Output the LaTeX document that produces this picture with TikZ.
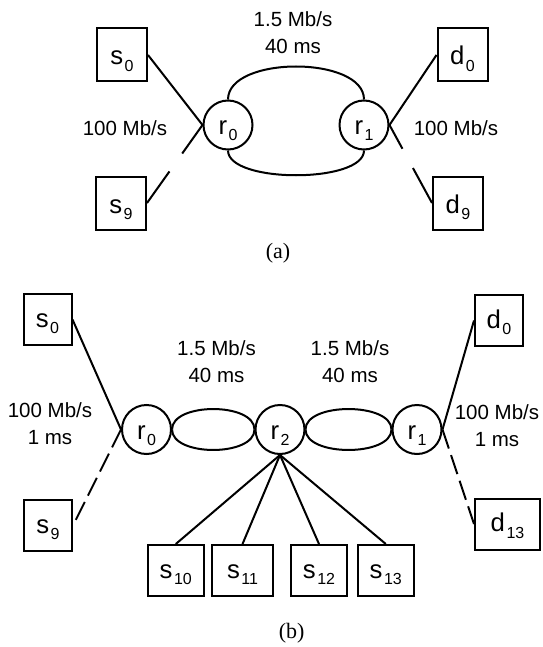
\documentclass[tikz,border=0pt]{standalone}
\usepackage{fontspec}
\setmainfont{Liberation Sans}
\newfontfamily\capfont{Liberation Serif}
\usetikzlibrary{shapes}
\newcommand{\idx}[1]{\kern1.5pt\raisebox{-6.5pt}{\fontsize{16}{16}\selectfont #1}}
\tikzstyle{host} = [rectangle,draw,line width=2pt,minimum width=48pt,minimum height=51pt,inner sep=1pt,text height=21pt,text depth=6pt,text centered,font=\fontsize{25.7}{30}\selectfont]
\tikzstyle{hosta} = [host,minimum width=50pt,minimum height=53pt,text depth=1pt]
\tikzstyle{router} = [circle,draw,line width=2pt,minimum size=49pt,inner sep=0pt,text height=22pt,text depth=3pt,font=\fontsize{25.7}{30}\selectfont]
\tikzstyle{rate} = [align=center,font=\fontsize{20.5}{27}\selectfont]
\tikzstyle{caption} = [font=\capfont\fontsize{22}{26}\selectfont]
\tikzstyle{wire} = [line width=2pt]
\tikzstyle{gapwire} = [wire,dash pattern=on 20pt off 7pt]

\begin{document}
\begin{tikzpicture}[x=1pt,y=1pt,node distance=100pt]
    \useasboundingbox (0,0) rectangle (542,-647);

    % (a) dumbbell
    \node[router](arouter0) at (228,-125) {r\idx{0}};
    \node[router,xshift=36pt,right of=arouter0](arouter1) {r\idx{1}};
    \node[hosta,xshift=-6pt,yshift=70pt,left of=arouter0](asrc0) {s\idx{0}};
    \node[hosta,xshift=-7pt,yshift=-78pt,left of=arouter0](asrc9) {s\idx{9}};
    \node[hosta,xshift=-1.5pt,yshift=70pt,right of=arouter1](adst0) {d\idx{0}};
    \node[hosta,xshift=-6pt,yshift=-78pt,right of=arouter1](adst9) {d\idx{9}};
    \node[rate,xshift=65pt,yshift=-8pt,above of=arouter0](abottle) {1.5 Mb/s\\40 ms};
    \node[rate,xshift=-3pt,yshift=-3pt,left of=arouter0](aleft) {100 Mb/s};
    \node[rate,xshift=-8pt,yshift=-3pt,right of=arouter1](aright) {100 Mb/s};
    \node[caption,xshift=50pt,yshift=-28pt,below of=arouter0](acap) {(a)};

    \draw[wire] (asrc0.east) -- (arouter0.west);
    \draw[wire,dash pattern=on 35pt off 22pt on 100pt off 10pt] (arouter0.west) -- (asrc9.east);
    \draw[wire] (adst0.west) -- (arouter1.east);
    \draw[wire,dash pattern=on 27pt off 22pt on 100pt off 10pt] (arouter1.east) -- (adst9.west);
    \draw[wire] (arouter0.north) .. controls +(0,44) and +(0,44) .. (arouter1.north);
    \draw[wire] (arouter0.south) .. controls +(0,-33) and +(0,-33) .. (arouter1.south);

    % (b) parking lot
    \node[router](brouter2) at (280,-429.5) {r\idx{2}};
    \node[router,xshift=-33.5pt,left of=brouter2](brouter0) {r\idx{0}};
    \node[router,xshift=37pt,right of=brouter2](brouter1) {r\idx{1}};
    \node[host,xshift=1pt,yshift=110pt,left of=brouter0](bsrc0) {s\idx{0}};
    \node[host,xshift=1.5pt,yshift=-96pt,left of=brouter0](bsrc9) {s\idx{9}};
    \node[host,xshift=-18pt,yshift=109pt,right of=brouter1](bdst0) {d\idx{0}};
    \node[host,minimum width=65pt,xshift=-9.5pt,yshift=-94.5pt,right of=brouter1](bdst13) {d\idx{13}};
    \node[host,minimum width=56pt,xshift=-104.2pt,yshift=-41pt,below of=brouter2](bsrc10) {s\idx{10}};
    \node[host,minimum width=61pt,xshift=-37.5pt,yshift=-41pt,below of=brouter2](bsrc11) {s\idx{11}};
    \node[host,minimum width=56pt,xshift=39pt,yshift=-41pt,below of=brouter2](bsrc12) {s\idx{12}};
    \node[host,minimum width=56pt,xshift=105.8pt,yshift=-41pt,below of=brouter2](bsrc13) {s\idx{13}};
    \node[rate,xshift=70pt,yshift=-32pt,above of=brouter0](bbottle0) {1.5 Mb/s\\40 ms};
    \node[rate,xshift=70pt,yshift=-32pt,above of=brouter2](bbottle1) {1.5 Mb/s\\40 ms};
    \node[rate,xshift=3.5pt,yshift=6pt,left of=brouter0](bleft) {100 Mb/s\\1 ms};
    \node[rate,xshift=-20pt,yshift=3.5pt,right of=brouter1](bright) {100 Mb/s\\1 ms};
    \node[caption,xshift=11.7pt,yshift=-103.5pt,below of=brouter2](bcap) {(b)};

    \draw[wire] (bsrc0.east) -- (brouter0.west);
    \draw[gapwire] (brouter0.west) -- (bsrc9.east);
    \draw[wire] (bdst0.west) -- (brouter1.east);
    \draw[gapwire] (brouter1.east) -- (bdst13.west);
    \draw[wire] (brouter0.east) .. controls +(0,27.3) and +(0,27.3) .. (brouter2.west);
    \draw[wire] (brouter0.east) .. controls +(0,-27.3) and +(0,-27.3) .. (brouter2.west);
    \draw[wire] (brouter2.east) .. controls +(0,27.3) and +(0,27.3) .. (brouter1.west);
    \draw[wire] (brouter2.east) .. controls +(0,-27.3) and +(0,-27.3) .. (brouter1.west);
    \draw[wire] (brouter2.south) -- (bsrc10.north);
    \draw[wire] (brouter2.south) -- (bsrc11.north);
    \draw[wire] (brouter2.south) -- (bsrc12.north);
    \draw[wire] (brouter2.south) -- (bsrc13.north);

\end{tikzpicture}
\end{document}
